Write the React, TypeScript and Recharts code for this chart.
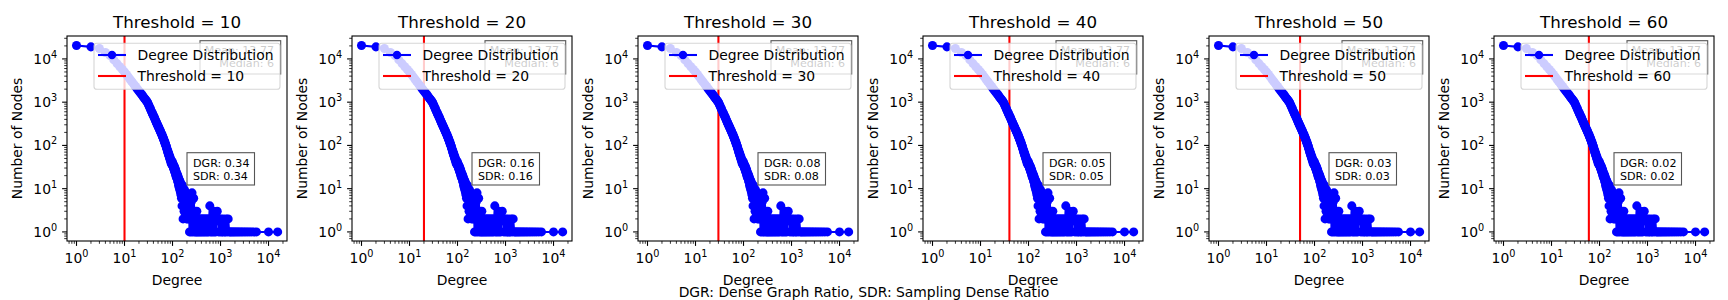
import React from "react";
import { ScatterChart, Scatter, XAxis, YAxis, ZAxis, ReferenceLine } from "recharts";

// one panel per threshold, same degree distribution in each
const thresholds = [10, 20, 30, 40, 50, 60];
const dgrValues = ["0.34", "0.16", "0.08", "0.05", "0.03", "0.02"];
const sdrValues = ["0.34", "0.16", "0.08", "0.05", "0.03", "0.02"];
const meanDegree = "13.77";
const medianDegree = "6";

// [degree, number of nodes]
const degreeCounts: [number, number][] = [
  [1, 20400], [2, 19000], [3, 17400], [4, 14100], [5, 12000], [6, 9500], [7, 7800], [8, 6600], [9, 5700], [10, 5000],
  [11, 4370], [12, 3840], [13, 3400], [14, 3050], [15, 2760], [16, 2500], [17, 2300], [18, 2110], [19, 1950], [20, 1800],
  [21, 1690], [22, 1580], [23, 1480], [24, 1390], [25, 1310], [26, 1230], [27, 1170], [28, 1110], [29, 1050], [30, 1000],
  [31, 920], [32, 850], [33, 790], [34, 730], [35, 680], [36, 630], [37, 590], [38, 550], [39, 520], [40, 490],
  [41, 460], [42, 435], [43, 410], [44, 385], [45, 362], [46, 343], [47, 325], [48, 308], [49, 293], [50, 280],
  [51, 266], [52, 254], [53, 242], [54, 231], [55, 220], [56, 211], [57, 201], [58, 193], [59, 185], [60, 177],
  [61, 170], [62, 160], [63, 157], [64, 147], [65, 143], [66, 134], [67, 131], [68, 122], [69, 120], [70, 111],
  [71, 109], [72, 103], [73, 98], [74, 96], [75, 88], [76, 87], [77, 80], [78, 79], [79, 72], [80, 74],
  [81, 66], [82, 68], [83, 61], [84, 63], [85, 56], [86, 58], [87, 51], [88, 54], [89, 47], [90, 50],
  [91, 44], [92, 47], [93, 40], [94, 44], [95, 37], [96, 41], [97, 38], [98, 43], [99, 36], [100, 40],
  [101, 34], [102, 38], [103, 32], [104, 36], [105, 30], [106, 34], [107, 28], [108, 33], [109, 27], [110, 31],
  [111, 25], [112, 30], [113, 24], [114, 28], [115, 22], [116, 27], [117, 21], [118, 25], [119, 19], [120, 24],
  [122, 18], [123, 22], [125, 17], [126, 21], [128, 15], [129, 20], [131, 14], [132, 18], [134, 12], [135, 17],
  [137, 11], [138, 16], [140, 10], [142, 15], [144, 9], [145, 14], [147, 8], [149, 13], [151, 7], [152, 12],
  [154, 6], [156, 11], [158, 4], [160, 12], [162, 7], [164, 10], [166, 2], [168, 9], [170, 6], [172, 10],
  [174, 3], [176, 8], [178, 5], [181, 9], [183, 3], [186, 7], [189, 4], [192, 8], [195, 2], [198, 6],
  [201, 3], [204, 7], [207, 2], [210, 5], [213, 3], [216, 6], [219, 2], [222, 4], [226, 1], [230, 7],
  [234, 2], [238, 4], [242, 1], [246, 5], [250, 2], [255, 8], [260, 1], [265, 3], [270, 2], [276, 6],
  [282, 1], [288, 2], [294, 3], [300, 1], [307, 2], [314, 1], [321, 3], [329, 1], [337, 2], [345, 1],
  [354, 2], [363, 1], [372, 2], [382, 1], [392, 2], [402, 1], [413, 2], [424, 1], [436, 2], [448, 1],
  [460, 2], [473, 1], [487, 2], [501, 1], [516, 2], [531, 1], [547, 2], [563, 1], [580, 2], [598, 4],
  [616, 1], [635, 2], [655, 1], [676, 2], [698, 1], [721, 3], [745, 1], [770, 2], [797, 1], [825, 2],
  [855, 3], [886, 2], [919, 1], [954, 2], [990, 1], [1030, 2], [1070, 1], [1115, 1], [1160, 2], [1210, 1],
  [1265, 1], [1320, 2], [1380, 1], [1445, 2], [1515, 1], [1590, 1], [1670, 1], [1760, 1], [1860, 1], [1970, 1],
  [2090, 1], [2220, 1], [2370, 1], [2530, 1], [2710, 1], [2910, 1], [3140, 1], [3400, 1], [3700, 1], [4050, 1],
  [4450, 1], [4950, 1], [5600, 1], [10000, 1], [15500, 1],
];

const majorTicks = [1, 10, 100, 1000, 10000];
const minorSteps = [2, 3, 4, 5, 6, 7, 8, 9];

const X_DOMAIN = [Math.pow(10, -0.198), Math.pow(10, 4.385)];
const Y_DOMAIN = [Math.pow(10, -0.21), Math.pow(10, 4.53)];

const FONT = "DejaVu Sans";
const PANEL_LEFTS = [67, 352, 638, 923, 1209, 1494];
const PLOT_LEFT = 67;
const PLOT_TOP = 36;
const PLOT_W = 220;
const PLOT_H = 205;
const CHART_W = 290;
const CHART_H = 300;

const points = degreeCounts.map(([degree, count]) => ({ degree, count }));

const buildTicks = (lo: number, hi: number) => {
  const all: number[] = [];
  [0.1, 1, 10, 100, 1000, 10000].forEach((base) => {
    all.push(base);
    minorSteps.forEach((s) => all.push(+(base * s).toPrecision(3)));
  });
  return all.filter((v) => v >= lo && v <= hi).sort((a, b) => a - b);
};
const xTicks = buildTicks(X_DOMAIN[0], X_DOMAIN[1]);
const yTicks = buildTicks(Y_DOMAIN[0], Y_DOMAIN[1]);

const exponentOf = (v: number) => Math.round(Math.log10(v));

const XTick = (props: any) => {
  const { x, y, payload } = props;
  const v = payload.value;
  const major = majorTicks.includes(v);
  return (
    <g>
      <line x1={x} x2={x} y1={y} y2={y + (major ? 4.9 : 2.8)} stroke="#000" strokeWidth={major ? 1.1 : 0.8} />
      {major && (
        <text x={x} y={y + 22} textAnchor="middle" fontSize={13.9} fontFamily={FONT} fill="#000">
          10<tspan dy={-6} fontSize={9.7}>{exponentOf(v)}</tspan>
        </text>
      )}
    </g>
  );
};

const YTick = (props: any) => {
  const { x, y, payload } = props;
  const v = payload.value;
  const major = majorTicks.includes(v);
  return (
    <g>
      <line x1={x - (major ? 4.9 : 2.8)} x2={x} y1={y} y2={y} stroke="#000" strokeWidth={major ? 1.1 : 0.8} />
      {major && (
        <text x={x - 9.8} y={y + 5} textAnchor="end" fontSize={13.9} fontFamily={FONT} fill="#000">
          10<tspan dy={-6} fontSize={9.7}>{exponentOf(v)}</tspan>
        </text>
      )}
    </g>
  );
};

function Panel({ index }: { index: number }) {
  const threshold = thresholds[index];
  const left = PANEL_LEFTS[index] - PLOT_LEFT;
  return (
    <div style={{ position: "absolute", left, top: 0, width: CHART_W, height: CHART_H }}>
      <ScatterChart width={CHART_W} height={CHART_H} margin={{ top: PLOT_TOP, right: CHART_W - PLOT_LEFT - PLOT_W, bottom: 0, left: 0 }}>
        <XAxis
          type="number"
          dataKey="degree"
          scale="log"
          domain={X_DOMAIN}
          allowDataOverflow
          ticks={xTicks}
          interval={0}
          tick={<XTick />}
          tickLine={false}
          axisLine={false}
          tickSize={0}
          tickMargin={0}
          height={CHART_H - PLOT_TOP - PLOT_H}
        />
        <YAxis
          type="number"
          dataKey="count"
          scale="log"
          domain={Y_DOMAIN}
          allowDataOverflow
          ticks={yTicks}
          interval={0}
          tick={<YTick />}
          tickLine={false}
          axisLine={false}
          tickSize={0}
          tickMargin={0}
          width={PLOT_LEFT}
        />
        <ZAxis type="number" range={[55, 55]} />
        <Scatter
          data={points}
          fill="#0000ff"
          line={{ stroke: "#0000ff", strokeWidth: 2.08 }}
          lineType="joint"
          isAnimationActive={false}
        />
        <ReferenceLine x={threshold} stroke="#ff0000" strokeWidth={2.08} ifOverflow="hidden" />
      </ScatterChart>
      <svg
        width={CHART_W}
        height={CHART_H}
        style={{ position: "absolute", left: 0, top: 0, pointerEvents: "none" }}
        fontFamily={FONT}
      >
        <text x={PLOT_LEFT + PLOT_W / 2} y={28} textAnchor="middle" fontSize={16.7} fill="#000">
          {`Threshold = ${threshold}`}
        </text>
        <text transform={`translate(22, ${PLOT_TOP + PLOT_H / 2}) rotate(-90)`} textAnchor="middle" fontSize={13.9} fill="#000">
          Number of Nodes
        </text>
        <text x={PLOT_LEFT + PLOT_W / 2} y={285} textAnchor="middle" fontSize={13.9} fill="#000">
          Degree
        </text>

        {/* DGR / SDR box */}
        <rect x={187} y={152.7} width={67.5} height={32.3} fill="#fff" stroke="#555" strokeWidth={1.1} />
        <text x={193} y={167} fontSize={11.1} fill="#000">{`DGR: ${dgrValues[index]}`}</text>
        <text x={193} y={180.3} fontSize={11.1} fill="#000">{`SDR: ${sdrValues[index]}`}</text>

        {/* mean / median box, sits under the legend */}
        <rect x={200} y={40.7} width={80.7} height={33.3} fill="#fff" stroke="#555" strokeWidth={1.1} />
        <text x={274} y={54} textAnchor="end" fontSize={11.1} fill="#000">{`Mean: ${meanDegree}`}</text>
        <text x={274} y={67.3} textAnchor="end" fontSize={11.1} fill="#000">{`Median: ${medianDegree}`}</text>

        {/* legend */}
        <rect x={94} y={43.3} width={186} height={46} rx={2.8} fill="#fff" fillOpacity={0.8} stroke="#ccc" strokeOpacity={0.8} strokeWidth={1.1} />
        <line x1={98} x2={126} y1={55} y2={55} stroke="#0000ff" strokeWidth={2.08} />
        <circle cx={112} cy={55} r={4.17} fill="#0000ff" />
        <text x={137.5} y={60} fontSize={13.9} fill="#000">Degree Distribution</text>
        <line x1={98} x2={126} y1={76} y2={76} stroke="#ff0000" strokeWidth={2.08} />
        <text x={137.5} y={81} fontSize={13.9} fill="#000">{`Threshold = ${threshold}`}</text>

        <rect x={PLOT_LEFT} y={PLOT_TOP} width={PLOT_W} height={PLOT_H} fill="none" stroke="#000" strokeWidth={1.1} />
      </svg>
    </div>
  );
}

export default function App() {
  return (
    <div style={{ position: "absolute", left: 0, top: 0, width: 1728, height: 300, background: "#fff" }}>
      {thresholds.map((_, i) => (
        <Panel key={i} index={i} />
      ))}
      <svg width={1728} height={300} style={{ position: "absolute", left: 0, top: 0, pointerEvents: "none" }}>
        <text x={864} y={296.5} textAnchor="middle" fontSize={13.9} fontFamily={FONT} fill="#000">
          DGR: Dense Graph Ratio, SDR: Sampling Dense Ratio
        </text>
      </svg>
    </div>
  );
}
